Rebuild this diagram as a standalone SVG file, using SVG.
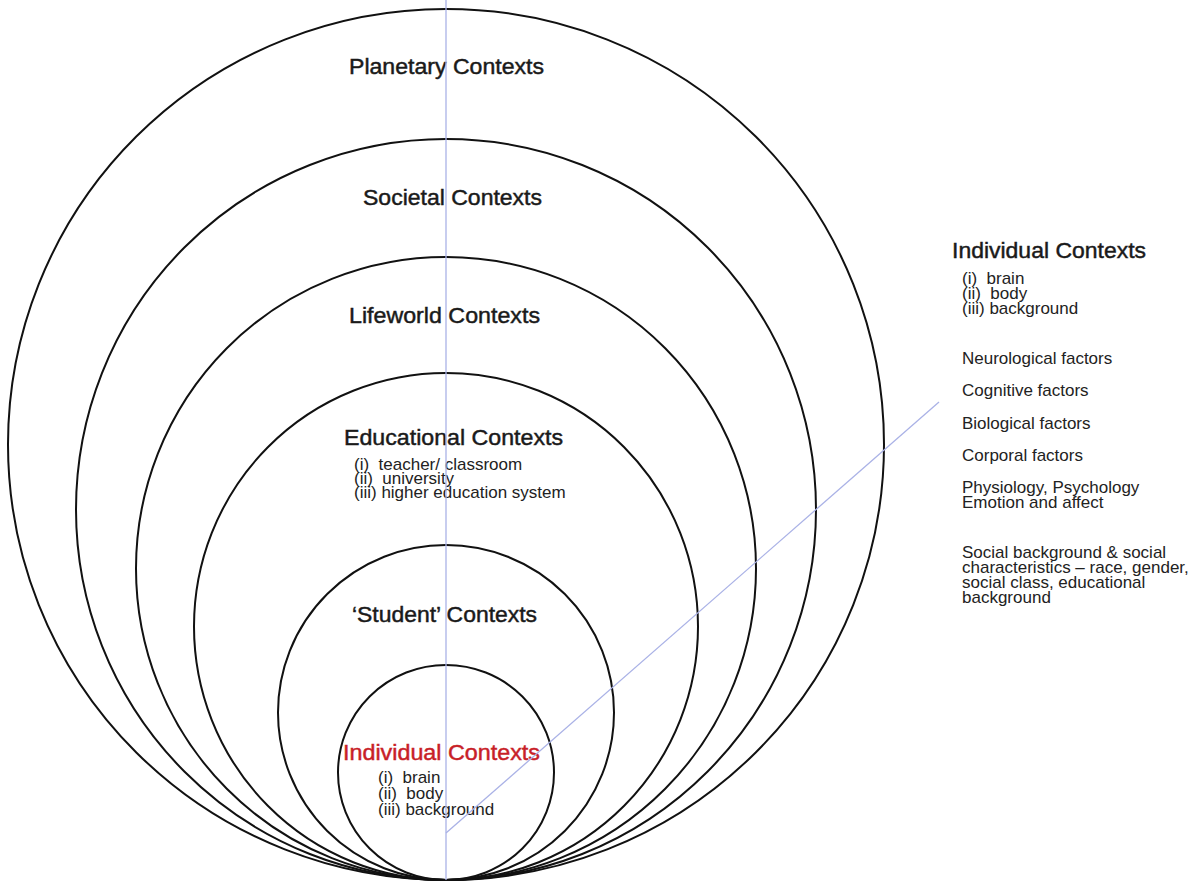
<svg xmlns="http://www.w3.org/2000/svg" width="1201" height="884" viewBox="0 0 1201 884">
  <style>
    .ring { fill: none; stroke: #111; stroke-width: 2; }
    .guide { stroke: #aab2e6; stroke-width: 1.3; fill: none; }
    .title { font-family: "Liberation Sans", Arial, sans-serif; font-size: 21.5px; fill: #1a1a1a; stroke: #1a1a1a; stroke-width: 0.45px; }
    .item { font-family: "Liberation Sans", Arial, sans-serif; font-size: 17px; fill: #222; white-space: pre; }
    .red { fill: #c81e28; stroke: #c81e28; }
  </style>
  <rect width="1201" height="884" fill="#fff"/>

  <!-- nested context rings, all touching at the bottom point -->
  <g id="planetary">
    <ellipse class="ring" cx="446" cy="444.5" rx="438" ry="435.5"/>
    <text class="title" x="349" y="74" textLength="195" lengthAdjust="spacingAndGlyphs">Planetary Contexts</text>
  </g>
  <g id="societal">
    <ellipse class="ring" cx="446" cy="509.5" rx="370" ry="370.5"/>
    <text class="title" x="363" y="205" textLength="179" lengthAdjust="spacingAndGlyphs">Societal Contexts</text>
  </g>
  <g id="lifeworld">
    <ellipse class="ring" cx="446" cy="568.5" rx="310" ry="311.5"/>
    <text class="title" x="349" y="323" textLength="191" lengthAdjust="spacingAndGlyphs">Lifeworld Contexts</text>
  </g>
  <g id="educational">
    <ellipse class="ring" cx="446" cy="626.5" rx="252" ry="253.5"/>
    <text class="title" x="344" y="445" textLength="219" lengthAdjust="spacingAndGlyphs">Educational Contexts</text>
    <text class="item" x="354" y="470">(i)  teacher/ classroom</text>
    <text class="item" x="354" y="484">(ii)  university</text>
    <text class="item" x="354" y="498">(iii) higher education system</text>
  </g>
  <g id="student">
    <ellipse class="ring" cx="446" cy="712.5" rx="168" ry="167.5"/>
    <text class="title" x="352" y="622" textLength="185" lengthAdjust="spacingAndGlyphs">‘Student’ Contexts</text>
  </g>
  <g id="individual">
    <ellipse class="ring" cx="446" cy="772.5" rx="108" ry="107.5"/>
    <text class="title red" x="343" y="760" textLength="197" lengthAdjust="spacingAndGlyphs">Individual Contexts</text>
    <text class="item" x="378" y="783">(i)  brain</text>
    <text class="item" x="378" y="799">(ii)  body</text>
    <text class="item" x="378" y="815">(iii) background</text>
  </g>

  <!-- guide lines -->
  <g id="connectors">
    <line class="guide" x1="446" y1="0" x2="446" y2="880"/>
    <line class="guide" x1="446" y1="833" x2="939" y2="402"/>
  </g>

  <!-- expanded view of the individual contexts -->
  <g id="individual-detail">
    <text class="title" x="952" y="258" textLength="194" lengthAdjust="spacingAndGlyphs">Individual Contexts</text>
    <text class="item" x="962" y="284">(i)  brain</text>
    <text class="item" x="962" y="299">(ii)  body</text>
    <text class="item" x="962" y="314">(iii) background</text>
    <text class="item" x="962" y="364">Neurological factors</text>
    <text class="item" x="962" y="396">Cognitive factors</text>
    <text class="item" x="962" y="429">Biological factors</text>
    <text class="item" x="962" y="461">Corporal factors</text>
    <text class="item" x="962" y="493">Physiology, Psychology</text>
    <text class="item" x="962" y="508">Emotion and affect</text>
    <text class="item" x="962" y="558">Social background &amp; social</text>
    <text class="item" x="962" y="573">characteristics – race, gender,</text>
    <text class="item" x="962" y="588">social class, educational</text>
    <text class="item" x="962" y="603">background</text>
  </g>
</svg>
